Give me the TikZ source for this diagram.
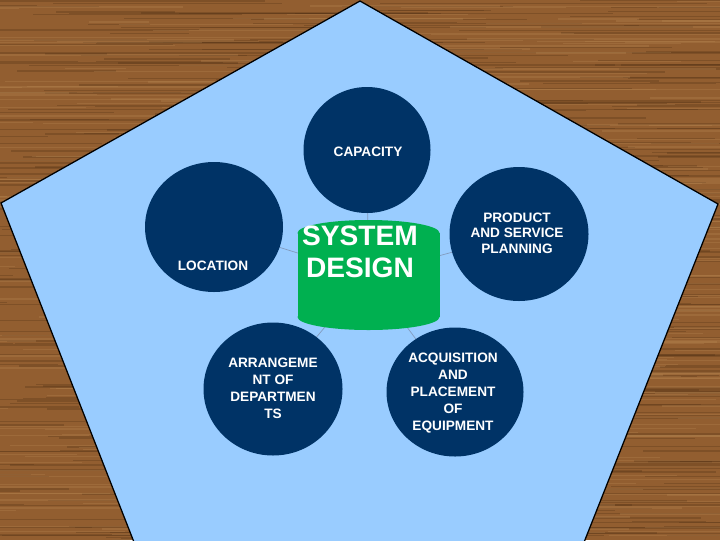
\documentclass[tikz,border=0pt]{standalone}
\usepackage{fontspec}
\setmainfont{Liberation Sans}
\usetikzlibrary{shapes.geometric}
\definecolor{navy}{RGB}{0,51,102}
\definecolor{pent}{RGB}{153,204,255}
\definecolor{sdgreen}{RGB}{0,176,80}
\definecolor{woodbase}{RGB}{146,94,48}
\definecolor{wooddark}{RGB}{82,48,20}
\definecolor{woodlight}{RGB}{184,136,84}
\definecolor{conn}{RGB}{130,155,190}
\begin{document}
\begin{tikzpicture}[x=0.025cm,y=-0.025cm,
  topic/.style={ellipse, fill=navy, inner sep=0pt},
  lbl/.style={text=white, font=\bfseries\fontsize{9.7}{12}\selectfont, align=center},
  link/.style={draw=conn, line width=0.5pt}]
\useasboundingbox (0,0) rectangle (720,540);
% wood background
\fill[woodbase] (0,0) rectangle (720,540);
\pgfmathsetseed{11}
\foreach \i in {1,...,520}{
  \pgfmathsetmacro\yy{rnd*540}
  \pgfmathsetmacro\xx{rnd*800-120}
  \pgfmathsetmacro\ll{60+rnd*300}
  \pgfmathsetmacro\hh{0.4+rnd*1.6}
  \fill[wooddark, opacity=0.3] (\xx,\yy) rectangle ++(\ll,\hh);
}
\foreach \i in {1,...,380}{
  \pgfmathsetmacro\yy{rnd*540}
  \pgfmathsetmacro\xx{rnd*800-120}
  \pgfmathsetmacro\ll{60+rnd*300}
  \pgfmathsetmacro\hh{0.4+rnd*1.6}
  \fill[woodlight, opacity=0.3] (\xx,\yy) rectangle ++(\ll,\hh);
}
% pentagon
\draw[fill=pent, line width=0.9pt] (360,1) -- (718,204) -- (577,560) -- (141,560) -- (1,203) -- cycle;
% centres
\coordinate (ccap) at (367,150);
\coordinate (cloc) at (214,227);
\coordinate (cprod) at (519,234);
\coordinate (carr) at (273,389);
\coordinate (cacq) at (455,392);
\coordinate (csd) at (368.5,275);
% connectors
\draw[link] (csd) -- (ccap);
\draw[link] (csd) -- (cloc);
\draw[link] (csd) -- (cprod);
\draw[link] (csd) -- (carr);
\draw[link] (csd) -- (cacq);
% circles
\node[topic, minimum width=127*0.025cm, minimum height=126*0.025cm] (cap) at (ccap) {};
\node[topic, minimum width=138*0.025cm, minimum height=130*0.025cm] (loc) at (cloc) {};
\node[topic, minimum width=139*0.025cm, minimum height=134*0.025cm] (prod) at (cprod) {};
\node[topic, minimum width=139*0.025cm, minimum height=133*0.025cm] (arr) at (carr) {};
\node[topic, minimum width=137*0.025cm, minimum height=129*0.025cm] (acq) at (cacq) {};
% cylinder
\fill[sdgreen] (297.5,233) rectangle (439.5,317);
\fill[sdgreen] (368.5,233) ellipse [x radius=71, y radius=13];
\fill[sdgreen] (368.5,317) ellipse [x radius=71, y radius=13];
\node[text=white, font=\bfseries\fontsize{20}{22.7}\selectfont, align=center] (sd) at (360,252) {SYSTEM\\DESIGN};
% labels
\node[lbl] (tcap) at (368,152) {CAPACITY};
\node[lbl] (tloc) at (213,266) {LOCATION};
\node[lbl, font=\bfseries\fontsize{9.7}{11}\selectfont] (tprod) at (517,233) {PRODUCT\\AND SERVICE\\PLANNING};
\node[lbl] (tarr) at (273,388) {ARRANGEME\\NT OF\\DEPARTMEN\\TS};
\node[lbl] (tacq) at (453,393) {ACQUISITION\\AND\\PLACEMENT\\OF\\EQUIPMENT};
\end{tikzpicture}
\end{document}
